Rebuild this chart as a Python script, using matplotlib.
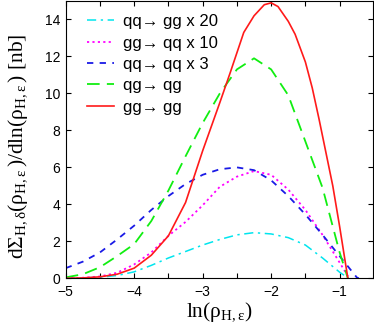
#!/usr/bin/env python3
"""Differential cross sections per channel vs ln(rho_H,eps)."""

import matplotlib
matplotlib.use('Agg')
import matplotlib.pyplot as plt
from matplotlib.ticker import MultipleLocator

plt.rcParams['font.family'] = ['Liberation Sans', 'DejaVu Sans']
plt.rcParams['mathtext.fontset'] = 'custom'
plt.rcParams['mathtext.rm'] = 'Liberation Serif'
plt.rcParams['mathtext.it'] = 'Liberation Serif:italic'

# values
x_gggg = [-5.0, -4.75, -4.5, -4.25, -4.0, -3.75, -3.5, -3.25, -3.0, -2.75, -2.6,
          -2.4, -2.25, -2.1, -2.0, -1.9, -1.75, -1.65, -1.5, -1.4, -1.3, -1.2,
          -1.1, -1.0, -0.88]
y_gggg = [0.0, 0.02, 0.08, 0.22, 0.55, 1.25, 2.3, 4.1, 6.9, 9.5, 11.1,
          13.3, 14.2, 14.8, 14.9, 14.7, 13.9, 13.2, 11.7, 10.3, 8.6, 6.8,
          5.0, 2.8, 0.0]

x_qgqg = [-5.0, -4.75, -4.5, -4.25, -4.0, -3.75, -3.5, -3.25, -3.0, -2.75, -2.5,
          -2.25, -2.0, -1.75, -1.5, -1.25, -1.0, -0.88]
y_qgqg = [0.05, 0.22, 0.6, 1.2, 1.85, 3.1, 4.75, 6.6, 8.4, 10.0, 11.3,
          11.9, 11.3, 9.9, 7.4, 4.9, 1.4, 0.0]

x_qqqq = [-5.0, -4.75, -4.5, -4.25, -4.0, -3.75, -3.5, -3.25, -3.0, -2.75, -2.5,
          -2.25, -2.0, -1.75, -1.5, -1.25, -1.0, -0.75, -0.72]
y_qqqq = [0.55, 0.9, 1.4, 2.1, 2.85, 3.7, 4.45, 5.1, 5.6, 5.9, 6.0,
          5.85, 5.3, 4.45, 3.45, 2.35, 1.2, 0.05, 0.0]

x_ggqq = [-5.0, -4.75, -4.5, -4.25, -4.0, -3.75, -3.5, -3.25, -3.0, -2.75, -2.5,
          -2.25, -2.0, -1.75, -1.5, -1.25, -1.0, -0.86]
y_ggqq = [0.0, 0.03, 0.1, 0.3, 0.75, 1.4, 2.3, 3.05, 3.95, 4.95, 5.5,
          5.8, 5.6, 4.8, 3.7, 2.35, 0.85, 0.0]

x_qqgg = [-5.0, -4.75, -4.5, -4.25, -4.0, -3.75, -3.5, -3.25, -3.0, -2.75, -2.5,
          -2.25, -2.0, -1.75, -1.5, -1.25, -1.0, -0.87]
y_qqgg = [0.0, 0.02, 0.06, 0.15, 0.35, 0.7, 1.1, 1.45, 1.8, 2.1, 2.35,
          2.47, 2.4, 2.2, 1.8, 1.1, 0.33, 0.0]

labels = ['qq\u2192 gg x 20', 'gg\u2192 qq x 10', 'qq\u2192 qq x 3',
          'qg\u2192 qg', 'gg\u2192 gg']

fig = plt.figure(figsize=(3.74, 3.36), dpi=100)
ax = fig.add_axes([0.1757, 0.1717, 0.8203, 0.8253])

ax.plot(x_qqgg, y_qqgg, color='#00e5ee', lw=1.1, dashes=(6, 3, 1.5, 3), label=labels[0])
ax.plot(x_ggqq, y_ggqq, color='#ff00ff', lw=1.3, dashes=(1.2, 1.8), label=labels[1])
ax.plot(x_qqqq, y_qqqq, color='#1a1ae6', lw=1.3, dashes=(3.5, 3.5), label=labels[2])
ax.plot(x_qgqg, y_qgqg, color='#11ee11', lw=1.3, dashes=(7, 4), label=labels[3])
ax.plot(x_gggg, y_gggg, color='#ff1a1a', lw=1.2, label=labels[4])

ax.set_xlim(-5, -0.52)
ax.set_ylim(0, 15)
ax.xaxis.set_major_locator(MultipleLocator(1))
ax.xaxis.set_minor_locator(MultipleLocator(0.5))
ax.yaxis.set_major_locator(MultipleLocator(2))
ax.tick_params(which='both', direction='in', top=True, right=True,
               length=3.5, width=0.8, labelsize=10, pad=5)
ax.tick_params(axis='y', pad=4)
for s in ax.spines.values():
    s.set_linewidth(0.8)

ax.set_xlabel(r'$\mathrm{ln(\rho_{H,\varepsilon})}$', fontsize=15.5, labelpad=1)
ax.set_ylabel(r'$\mathrm{d\Sigma_{H,\delta}(\rho_{H,\varepsilon}\,)/dln(\rho_{H,\varepsilon}\,)\ [nb]}$',
              fontsize=15.5, labelpad=1)
ax.yaxis.set_label_coords(-0.115, 0.475)

ax.legend(loc='upper left', frameon=False, fontsize=12, handlelength=1.6,
          handletextpad=0.55, labelspacing=0.38, borderaxespad=0.0,
          borderpad=0.0, bbox_to_anchor=(0.07, 0.952))

fig.savefig('out.png', dpi=100)
